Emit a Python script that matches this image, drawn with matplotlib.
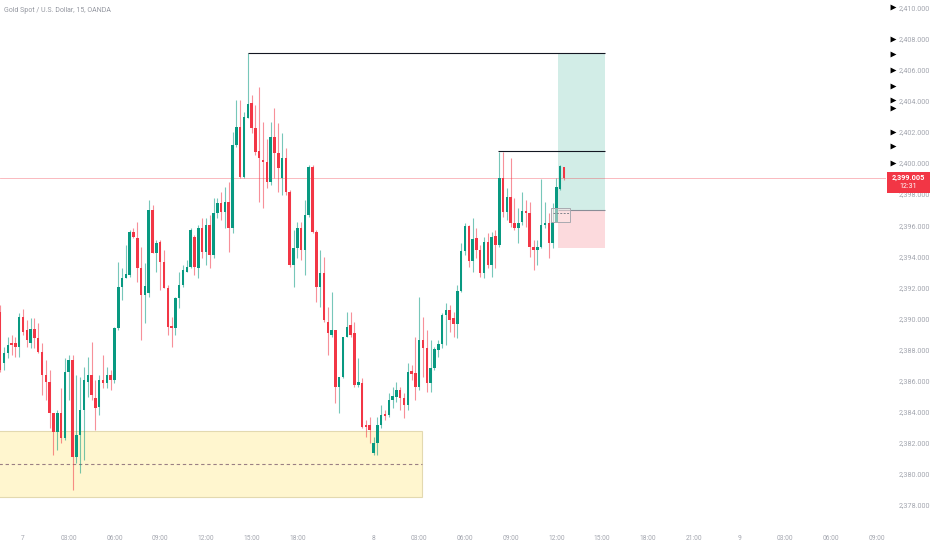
import matplotlib
matplotlib.use("Agg")
import matplotlib.pyplot as plt
from matplotlib.patches import Rectangle
from matplotlib.ticker import FuncFormatter, MultipleLocator

plt.rcParams['font.family'] = ['Roboto', 'DejaVu Sans']

# ---------------- data ----------------
first_bar = -6  # bar index of first visible candle (index 0 = day 7 00:00)

opens = [
    2390.42, 2387.14, 2387.78, 2388.43, 2388.43, 2388.17,
    2390.10, 2389.26, 2388.43, 2389.33, 2388.75, 2387.85, 2386.37, 2385.92, 2383.92, 2382.70,
    2383.92, 2382.32, 2386.56, 2387.33, 2381.09, 2382.51, 2384.12, 2385.92, 2386.37, 2384.89,
    2384.31, 2386.05, 2385.85, 2386.37, 2386.05, 2389.39, 2392.03, 2392.61, 2392.80, 2395.56,
    2395.18, 2393.25, 2391.51, 2391.64, 2396.98, 2394.21, 2394.92, 2393.63, 2391.96, 2389.52,
    2389.39, 2391.32, 2392.16, 2392.99, 2393.31, 2395.24, 2393.25, 2395.82, 2394.28, 2396.01,
    2394.08, 2396.78, 2397.43, 2396.85, 2397.49, 2395.82, 2401.16, 2402.31, 2399.10, 2402.89,
    2403.86, 2402.25, 2400.77, 2400.19, 2400.06, 2398.78, 2401.67, 2400.64, 2399.04, 2400.32,
    2398.14, 2393.44, 2394.53, 2395.82, 2394.41, 2396.66, 2399.74, 2395.56, 2392.03, 2392.93,
    2389.78, 2388.94, 2389.26, 2385.60, 2386.24, 2388.81, 2389.58, 2389.07, 2385.73, 2385.85,
    2383.15, 2383.15, 2381.35, 2382.00, 2383.15, 2383.86, 2383.80, 2384.76, 2384.95, 2385.40,
    2384.89, 2384.44, 2386.63, 2386.50, 2385.60, 2388.62, 2388.10, 2385.85, 2386.82, 2387.98,
    2388.36, 2390.23, 2390.55, 2390.03, 2389.65, 2391.77, 2394.34, 2395.95, 2393.70, 2395.18,
    2394.41, 2392.93, 2394.92, 2393.44, 2395.31, 2394.73, 2399.04, 2396.85, 2397.81, 2396.14,
    2395.82, 2396.21, 2396.91, 2396.78, 2394.60, 2394.41, 2394.60, 2396.01, 2396.14, 2394.86,
    2396.21, 2398.33, 2399.74,
]
highs = [
    2390.87, 2388.17, 2388.81, 2388.94, 2388.81, 2390.36,
    2390.61, 2389.90, 2390.03, 2390.03, 2389.71, 2388.43, 2387.33, 2386.69, 2383.92, 2384.12,
    2385.53, 2387.46, 2387.65, 2387.65, 2386.37, 2386.24, 2386.88, 2387.53, 2388.49, 2386.05,
    2386.37, 2387.65, 2386.88, 2386.69, 2389.45, 2393.63, 2393.25, 2394.73, 2395.69, 2395.82,
    2396.21, 2394.60, 2393.57, 2397.62, 2397.30, 2395.05, 2395.05, 2394.41, 2392.16, 2390.10,
    2391.38, 2392.99, 2393.44, 2393.76, 2395.82, 2395.37, 2396.01, 2396.46, 2396.46, 2396.66,
    2397.75, 2397.75, 2398.14, 2398.46, 2398.78, 2401.99, 2404.05, 2404.05, 2403.28, 2407.07,
    2404.37, 2403.73, 2404.89, 2402.64, 2401.54, 2402.64, 2403.54, 2402.57, 2401.93, 2400.96,
    2398.26, 2395.69, 2396.21, 2396.21, 2397.62, 2399.87, 2399.87, 2395.69, 2394.41, 2393.96,
    2390.74, 2391.71, 2389.26, 2386.24, 2388.81, 2390.42, 2390.42, 2389.78, 2387.46, 2386.18,
    2383.47, 2383.67, 2382.38, 2383.67, 2384.44, 2384.12, 2385.21, 2385.60, 2385.92, 2385.60,
    2385.21, 2387.14, 2387.01, 2388.81, 2391.38, 2390.10, 2389.26, 2388.62, 2388.17, 2388.62,
    2390.36, 2391.00, 2390.87, 2390.42, 2392.16, 2394.86, 2396.14, 2396.01, 2396.46, 2395.82,
    2394.73, 2395.24, 2395.50, 2395.56, 2395.69, 2400.71, 2400.71, 2398.39, 2400.32, 2397.75,
    2397.11, 2398.14, 2397.62, 2397.49, 2395.05, 2395.05, 2398.97, 2397.49, 2396.78, 2397.43,
    2399.04, 2399.87, 2399.74,
]
lows = [
    2386.56, 2386.69, 2387.46, 2387.65, 2387.53, 2387.53,
    2388.94, 2388.17, 2388.10, 2388.10, 2387.78, 2385.08, 2384.76, 2382.96, 2381.22, 2381.55,
    2382.00, 2382.19, 2384.76, 2378.97, 2380.71, 2380.07, 2380.90, 2384.95, 2384.76, 2382.83,
    2383.80, 2385.53, 2385.53, 2385.40, 2385.85, 2389.26, 2391.19, 2392.61, 2392.67, 2395.18,
    2392.35, 2388.62, 2389.71, 2391.38, 2394.21, 2392.99, 2391.83, 2391.96, 2388.94, 2388.17,
    2388.94, 2390.68, 2392.03, 2392.99, 2393.25, 2392.80, 2392.61, 2393.89, 2393.44, 2393.25,
    2393.89, 2396.46, 2396.33, 2395.82, 2394.28, 2395.50, 2401.03, 2399.04, 2399.04, 2402.89,
    2401.93, 2400.51, 2397.49, 2397.11, 2398.39, 2398.59, 2399.04, 2398.14, 2397.94, 2397.94,
    2393.31, 2392.03, 2393.89, 2393.76, 2392.80, 2396.53, 2395.50, 2391.06, 2390.74, 2389.78,
    2387.65, 2388.81, 2384.57, 2383.92, 2386.18, 2388.81, 2388.81, 2385.60, 2385.60, 2382.96,
    2382.38, 2382.00, 2381.22, 2381.22, 2382.96, 2383.47, 2383.67, 2384.25, 2384.63, 2384.12,
    2383.60, 2384.12, 2386.05, 2384.76, 2385.40, 2386.24, 2385.28, 2385.28, 2386.69, 2387.53,
    2388.10, 2388.30, 2389.13, 2388.81, 2388.75, 2391.71, 2394.08, 2393.31, 2392.99, 2393.89,
    2392.67, 2392.61, 2393.25, 2392.67, 2393.25, 2394.60, 2396.53, 2396.33, 2395.88, 2395.69,
    2394.86, 2396.01, 2395.88, 2393.96, 2393.12, 2393.44, 2394.53, 2395.82, 2393.89, 2394.53,
    2396.21, 2398.26, 2398.91,
]
closes = [
    2386.69, 2387.78, 2388.30, 2388.30, 2388.17, 2390.10,
    2389.13, 2388.62, 2389.33, 2388.75, 2387.85, 2386.37, 2385.92, 2383.92, 2382.70, 2383.92,
    2382.32, 2386.56, 2387.33, 2381.09, 2382.51, 2384.12, 2386.05, 2386.37, 2385.08, 2384.25,
    2386.05, 2385.85, 2386.37, 2386.05, 2389.39, 2392.03, 2392.61, 2392.86, 2395.56, 2395.24,
    2393.25, 2391.51, 2392.09, 2396.98, 2394.21, 2394.86, 2393.63, 2391.96, 2389.45, 2389.39,
    2391.32, 2392.16, 2393.12, 2393.31, 2395.69, 2393.31, 2395.82, 2394.28, 2396.01, 2394.08,
    2396.78, 2397.43, 2396.85, 2397.49, 2395.82, 2401.16, 2402.31, 2399.10, 2402.96, 2403.79,
    2402.25, 2400.71, 2400.32, 2400.06, 2398.78, 2401.67, 2400.64, 2399.68, 2400.32, 2398.14,
    2393.44, 2394.53, 2395.82, 2394.41, 2396.66, 2399.74, 2395.56, 2392.03, 2392.93, 2389.90,
    2389.07, 2389.26, 2385.60, 2386.24, 2388.81, 2389.45, 2388.94, 2385.73, 2385.92, 2383.02,
    2383.02, 2382.83, 2382.00, 2383.15, 2383.80, 2383.73, 2384.76, 2385.02, 2385.40, 2384.89,
    2384.44, 2386.56, 2386.44, 2385.60, 2388.62, 2388.10, 2385.85, 2386.82, 2388.04, 2388.36,
    2390.23, 2390.55, 2389.90, 2389.65, 2391.77, 2394.34, 2395.95, 2393.70, 2395.11, 2394.41,
    2392.93, 2394.92, 2393.44, 2395.24, 2394.73, 2399.04, 2396.85, 2397.81, 2396.14, 2395.82,
    2396.14, 2396.91, 2396.78, 2394.60, 2394.41, 2394.60, 2396.01, 2396.14, 2394.86, 2396.21,
    2398.46, 2399.81, 2399.005,
]

# time axis labels (bar index -> label); session gap before day 8
time_tick_idx = [0, 12, 24, 36, 48, 60, 72, 92, 104, 116, 128, 140, 152, 164, 176, 188, 200, 212, 224]
time_tick_lbl = ["7", "03:00", "06:00", "09:00", "12:00", "15:00", "18:00",
                 "8", "03:00", "06:00", "09:00", "12:00", "15:00", "18:00", "21:00",
                 "9", "03:00", "06:00", "09:00"]

# drawings
zone_top, zone_bottom, zone_right = 2382.77, 2378.52, 104.7
high_line_level, high_line_start = 2407.07, 59
mid_line_level, mid_line_start = 2400.77, 124.7
pos_start, pos_end = 140.4, 152.8
pos_entry, pos_target, pos_stop = 2396.98, 2407.07, 2394.55
small_box = (138.6, 143.6, 2396.21, 2397.11, 2396.77)
alert_levels = [2410.03, 2407.97, 2407.01, 2405.98, 2404.95, 2404.05, 2403.54, 2401.99, 2401.09, 2400.00]
countdown = "12:31"
title = "Gold Spot / U.S. Dollar, 15, OANDA"

# ---------------- figure ----------------
W, H = 932, 550
UP, DOWN = "#089981", "#f23645"
GREY = "#a3a6af"

fig = plt.figure(figsize=(W / 100, H / 100), dpi=100)
fig.patch.set_facecolor("white")
ax = fig.add_axes([0, 28 / H, 886 / W, 522 / H])
ax.set_facecolor("white")

idx = list(range(first_bar, first_bar + len(opens)))
cols = [UP if c >= o else DOWN for o, c in zip(opens, closes)]
ax.vlines(idx, lows, highs, colors=cols, linewidth=0.8, alpha=0.55, zorder=3)
bottoms = [min(o, c) for o, c in zip(opens, closes)]
heights = [max(abs(c - o), 0.07) for o, c in zip(opens, closes)]
ax.bar(idx, heights, bottom=bottoms, width=0.66, color=cols, linewidth=0, zorder=4)

# demand zone
ax.add_patch(Rectangle((-20, zone_bottom), zone_right + 20, zone_top - zone_bottom,
                       facecolor="#fff6cf", edgecolor="#e3d9b0", linewidth=0.8, zorder=1))
ax.hlines((zone_top + zone_bottom) / 2, -20, zone_right, colors="#9a7f84",
          linestyles=(0, (3, 2.5)), linewidth=0.8, zorder=2)

# horizontal level lines
ax.hlines(high_line_level, high_line_start, pos_end, colors="#131722", linewidth=0.8, zorder=5)
ax.hlines(mid_line_level, mid_line_start, pos_end, colors="#131722", linewidth=0.8, zorder=5)

# long position tool
ax.add_patch(Rectangle((pos_start, pos_entry), pos_end - pos_start, pos_target - pos_entry,
                       facecolor="#d2ede7", edgecolor="none", zorder=1))
ax.add_patch(Rectangle((pos_start, pos_stop), pos_end - pos_start, pos_entry - pos_stop,
                       facecolor="#fcdadd", edgecolor="none", zorder=1))
ax.hlines(pos_entry, pos_start, pos_end, colors="#8a8d96", linewidth=0.8, zorder=2)

# small box
bx0, bx1, by0, by1, bym = small_box
ax.add_patch(Rectangle((bx0, by0), bx1 - bx0, by1 - by0, facecolor=(1, 0.9, 0.9, 0.5),
                       edgecolor="#a9a9b0", linewidth=0.7, zorder=6))
ax.hlines(bym, bx0 + 0.5, bx1, colors="#80838c", linestyles=(0, (2, 1.5)), linewidth=0.7, zorder=6)

# current price line
last = closes[-1]
ax.axhline(last, color=DOWN, linewidth=0.6, alpha=0.4, zorder=2)

ax.set_xlim(-23 / 3.81, (886 - 23) / 3.81)
ax.set_ylim(2376.91, 2410.48)

for s in ax.spines.values():
    s.set_visible(False)

ax.set_xticks(time_tick_idx)
ax.set_xticklabels(time_tick_lbl)
ax.tick_params(axis="x", length=0, pad=9, labelsize=4.8, labelcolor=GREY)
ax.yaxis.tick_right()
ax.yaxis.set_major_locator(MultipleLocator(2))
ax.yaxis.set_major_formatter(FuncFormatter(lambda v, p: f"{v:,.3f}"))
ax.tick_params(axis="y", length=0, pad=9, labelsize=5.2, labelcolor=GREY)

# price scale overlay
ax2 = fig.add_axes([886 / W, 28 / H, 46 / W, 522 / H])
ax2.set_xlim(0, 1)
ax2.set_ylim(ax.get_ylim())
ax2.axis("off")
ax2.patch.set_alpha(0)
ax2.scatter([0.16] * len(alert_levels), alert_levels, marker=">", s=18, color="black",
            linewidths=0, clip_on=False, zorder=5)
ax2.add_patch(Rectangle((0.02, 2398.07), 0.94, 1.35, facecolor=DOWN, edgecolor="none",
                        zorder=6, clip_on=False))
ax2.text(0.49, last + 0.03, f"{last:,.3f}", color="white", fontsize=5.2, ha="center",
         va="center", zorder=7, fontweight="bold")
ax2.text(0.49, last - 0.55, countdown, color="white", fontsize=5.0, ha="center",
         va="center", zorder=7)

fig.text(4 / W, 1 - 10 / H, title, fontsize=5, color="#9598a1", va="center", ha="left")

fig.savefig("out.png", dpi=100, facecolor="white")
